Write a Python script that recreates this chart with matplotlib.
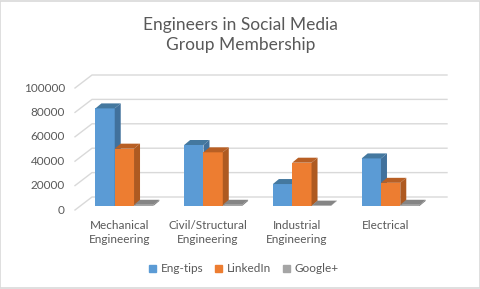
import matplotlib
matplotlib.use("Agg")
import matplotlib.pyplot as plt
from matplotlib.patches import Polygon, Patch, Rectangle

categories = ["Mechanical\nEngineering", "Civil/Structural\nEngineering",
              "Industrial\nEngineering", "Electrical"]
series = ["Eng-tips", "LinkedIn", "Google+"]
eng_tips = [80000, 50000, 18000, 39000]
linkedin = [47000, 44000, 35500, 19000]
google_plus = [1000, 1000, 300, 1000]
yticks = [0, 20000, 40000, 60000, 80000, 100000]

front = ["#5B9BD5", "#ED7D31", "#A5A5A5"]
side = ["#41719C", "#AE5A21", "#7C7C7C"]
top = ["#44789F", "#B85F24", "#858585"]
text_col = "#595959"
grid_col = "#D9D9D9"

plt.rcParams["font.family"] = ["Lato", "DejaVu Sans"]

fig = plt.figure(figsize=(4.81, 2.89), dpi=100)
ax = fig.add_axes([80 / 481, 83 / 289, 355 / 481, 122 / 289])
ax.set_xlim(-0.5, 3.5)
ax.set_ylim(0, 100000)
ax.axis("off")

# pixel -> data scale
px_x = 4.0 / 355
px_y = 100000 / 122

# plane offsets (bars front plane is the axes)
lab_dx, lab_dy = -5 * px_x, -4 * px_y      # label plane
back_dx, back_dy = 12 * px_x, 9 * px_y     # back wall
bar_dx, bar_dy = 6 * px_x, 5 * px_y        # bar depth

for v in yticks:
    x0, y0 = -0.5 + lab_dx, v + lab_dy
    x1, y1 = -0.5 + back_dx, v + back_dy
    ax.plot([x0, x1, 3.5 + back_dx], [y0, y1, y1], color=grid_col, lw=1,
            clip_on=False, zorder=0)
    ax.text(x0 - 10 * px_x, y0, str(v), ha="right", va="center",
            fontsize=8.5, color=text_col)

width = 19.3 * px_x
values = [eng_tips, linkedin, google_plus]
z = 2
for i in range(len(categories)):
    for s in range(3):
        h = values[s][i]
        xl = i - 1.5 * width + s * width
        xr = xl + width
        ax.bar(xl, h, width=width, align="edge", color=front[s], zorder=z,
               clip_on=False)
        ax.add_patch(Polygon([(xl, h), (xr, h), (xr + bar_dx, h + bar_dy),
                              (xl + bar_dx, h + bar_dy)], closed=True,
                             color=top[s], zorder=z, clip_on=False, lw=0))
        ax.add_patch(Polygon([(xr, 0), (xr, h), (xr + bar_dx, h + bar_dy),
                              (xr + bar_dx, bar_dy)], closed=True,
                             color=side[s], zorder=z, clip_on=False, lw=0))
        z += 1
    ax.text(i + lab_dx, -14 * px_y, categories[i], ha="center", va="top",
            fontsize=8.5, color=text_col, linespacing=1.3)

fig.text(0.5, 1 - 35 / 289, "Engineers in Social Media\nGroup Membership",
         ha="center", va="center", fontsize=12.5, color=text_col,
         linespacing=1.3)

handles = [Patch(color=front[s], label=series[s]) for s in range(3)]
fig.legend(handles=handles, loc="center", bbox_to_anchor=(0.507, 1 - 269 / 289),
           ncol=3, frameon=False, fontsize=8.5, labelcolor=text_col,
           handlelength=0.6, handleheight=0.6, handletextpad=0.4,
           columnspacing=1.0)

fig.add_artist(Rectangle((0.001, 0.002), 0.997, 0.996, transform=fig.transFigure,
                         fill=False, edgecolor=grid_col, lw=1.2))

fig.savefig("out.png", dpi=100)
